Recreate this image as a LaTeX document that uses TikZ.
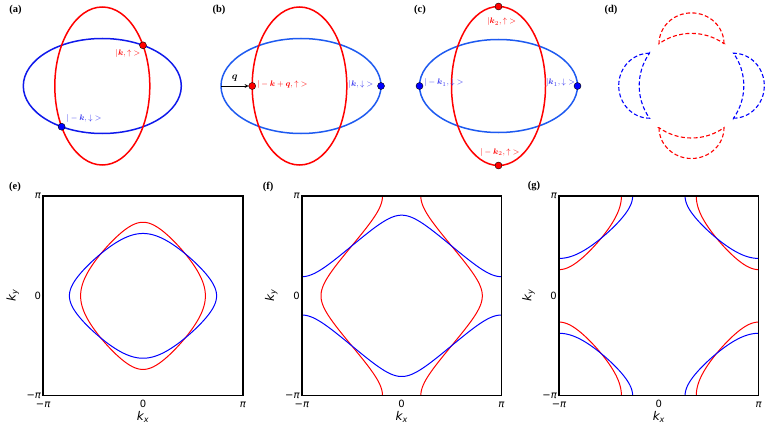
\documentclass[tikz,border=0pt]{standalone}
\usepackage{amsmath}
\usepackage{fontspec}
\setmainfont{Liberation Serif}
\newfontfamily\tickfont{DejaVu Sans}
\usetikzlibrary{arrows}

\definecolor{ellblue}{RGB}{15,25,235}
\definecolor{ellbluetwo}{RGB}{30,90,240}
\definecolor{ketblue}{RGB}{55,55,240}

% Fermi surface parameters: cos kx + r cos ky = mu
\newcommand{\fsmu}{0.4412}
\newcommand{\fsr}{0.8239}
\newcommand{\redloop}{plot[domain=-76:76] (\x,{acos((\fsmu-cos(\x))/\fsr)}) -- plot[domain=76:-76] ({acos(\fsmu-\fsr*cos(\x))},\x) -- plot[domain=76:-76] (\x,{-acos((\fsmu-cos(\x))/\fsr)}) -- plot[domain=-76:76] ({-acos(\fsmu-\fsr*cos(\x))},\x) -- cycle}
\newcommand{\blueloop}{plot[domain=-76:76] (\x,{acos(\fsmu-\fsr*cos(\x))}) -- plot[domain=76:-76] ({acos((\fsmu-cos(\x))/\fsr)},\x) -- plot[domain=76:-76] (\x,{-acos(\fsmu-\fsr*cos(\x))}) -- plot[domain=-76:76] ({-acos((\fsmu-cos(\x))/\fsr)},\x) -- cycle}

\begin{document}
\begin{tikzpicture}[x=1pt,y=1pt,
    ell/.style={line width=1.5pt},
    rdot/.style={circle,draw=black,line width=0.4pt,fill=red,inner sep=0pt,minimum size=7pt},
    bdot/.style={rdot,fill=blue},
    ket/.style={font=\fontsize{8.5}{9}\selectfont,inner sep=1pt},
    panel/.style={font=\fontsize{10.5}{12}\selectfont\bfseries},
    crescent/.style={line width=1.1pt,dash pattern=on 4pt off 2.4pt},
    band/.style={line width=1pt,samples=90},
    bzframe/.style={line width=1.6pt},
    ticklab/.style={font=\tickfont\fontsize{10}{11}\selectfont,inner sep=2pt},
    axlab/.style={font=\tickfont\itshape\fontsize{12}{13}\selectfont}]
    \useasboundingbox (0,0) rectangle (773,432);

    %(a)
    \node[panel] (la) at (15.5,422.5) {(a)};
    \draw[ell, ellblue] (102.3,346) ellipse [x radius=79, y radius=47.5];
    \draw[ell, red] (102.3,346) ellipse [x radius=47.5, y radius=79];
    \node[rdot] (ka) at (143,386.7) {};
    \node[bdot] (mka) at (61.6,305.3) {};
    \node[ket, red] (kalab) at (128,378.5) {$|\boldsymbol{k},\uparrow\mathord{>}$};
    \node[ket, ketblue] (mkalab) at (84,314) {$|-\boldsymbol{k},\downarrow\mathord{>}$};

    %(b)
    \node[panel] (lb) at (219,422.5) {(b)};
    \draw[ell, ellbluetwo] (301,346) ellipse [x radius=80, y radius=47.5];
    \draw[ell, red] (299.5,346) ellipse [x radius=47.3, y radius=79];
    \coordinate (qs) at (221,346);
    \node[rdot] (kq) at (252.2,346) {};
    \node[bdot] (kb) at (381,346) {};
    \draw[->, >=stealth, line width=0.7pt] (qs) -- (kq) node[midway, above=1pt] (qlab) {$\boldsymbol{q}$};
    \node[ket, red, anchor=west] (kqlab) at (256,347) {$|-\boldsymbol{k}+\boldsymbol{q},\uparrow\mathord{>}$};
    \node[ket, ketblue, anchor=east] (kblab) at (374.5,347) {$|\boldsymbol{k},\downarrow\mathord{>}$};

    %(c)
    \node[panel] (lc) at (420,422.5) {(c)};
    \draw[ell, ellbluetwo] (498.5,346) ellipse [x radius=79, y radius=46.5];
    \draw[ell, red] (498.5,346) ellipse [x radius=47, y radius=79.5];
    \node[rdot] (k2) at (498.5,425.5) {};
    \node[rdot] (mk2) at (498.5,266.5) {};
    \node[bdot] (mk1) at (419.5,346) {};
    \node[bdot] (k1) at (577.5,346) {};
    \node[ket, red] (k2lab) at (501.7,410) {$|\boldsymbol{k}_2,\uparrow\mathord{>}$};
    \node[ket, red] (mk2lab) at (500,279.3) {$|-\boldsymbol{k}_2,\uparrow\mathord{>}$};
    \node[ket, ketblue] (mk1lab) at (444,349) {$|-\boldsymbol{k}_1,\downarrow\mathord{>}$};
    \node[ket, ketblue] (k1lab) at (560.5,349) {$|\boldsymbol{k}_1,\downarrow\mathord{>}$};

    %(d)
    \node[panel] (ld) at (611,422.5) {(d)};
    \foreach \ang/\col in {0/red,180/red,90/blue,270/blue}
        \draw[crescent, \col, rotate around={\ang:(691.5,346.3)}] (724,388.3) arc[start angle=0, end angle=180, x radius=32.5, y radius=30.8] arc[start angle=125.2, end angle=54.8, radius=56.4] -- cycle;

    %(e)
    \node[panel] (le) at (15,245.5) {(e)};
    \begin{scope}[shift={(143pt,136.15pt)}, x=0.5545pt, y=0.5545pt]
        \draw[band, red] \redloop;
        \draw[band, blue] \blueloop;
    \end{scope}

    %(f)
    \node[panel] (lf) at (268,245.5) {(f)};
    \begin{scope}[shift={(401.65pt,136.15pt)}, x=0.5545pt, y=0.5545pt]
        \draw[band, red] plot[domain=-180:180] ({acos(-\fsr*cos(\x))},\x);
        \draw[band, red] plot[domain=-180:180] ({-acos(-\fsr*cos(\x))},\x);
        \draw[band, blue] plot[domain=-180:180] (\x,{acos(-\fsr*cos(\x))});
        \draw[band, blue] plot[domain=-180:180] (\x,{-acos(-\fsr*cos(\x))});
    \end{scope}

    %(g)
    \node[panel] (lg) at (534,245.5) {(g)};
    \begin{scope}[shift={(658.85pt,136.15pt)}, x=0.5545pt, y=0.5545pt]
        \clip (-180,-180) rectangle (180,180);
        \foreach \cx in {-180,180}
            \foreach \cy in {-180,180} {
                \draw[band, red, shift={(\cx,\cy)}] \redloop;
                \draw[band, blue, shift={(\cx,\cy)}] \blueloop;
            }
    \end{scope}

    %frames and axes
    \foreach \cx/\nm in {143/e,401.65/f,658.85/g} {
        \begin{scope}[shift={(\cx pt,136.15pt)}, x=0.5545pt, y=0.5545pt]
            \draw[bzframe] (-180,-180) rectangle (180,180);
            \node[ticklab, anchor=east] (\nm yt) at (-180,180) {\itshape π};
            \node[ticklab, anchor=east] (\nm yz) at (-180,0) {0};
            \node[ticklab, anchor=east] (\nm yb) at (-180,-180) {−{\itshape π}};
            \node[ticklab, anchor=base] (\nm xl) at (-180,-201.5) {−{\itshape π}};
            \node[ticklab, anchor=base] (\nm xz) at (0,-201.5) {0};
            \node[ticklab, anchor=base] (\nm xr) at (180,-201.5) {\itshape π};
            \node[axlab] (\nm kx) at (0,-218.5) {k\textsubscript{x}};
            \node[axlab, rotate=90] (\nm ky) at (-235,0) {k\textsubscript{y}};
        \end{scope}
    }
\end{tikzpicture}
\end{document}
